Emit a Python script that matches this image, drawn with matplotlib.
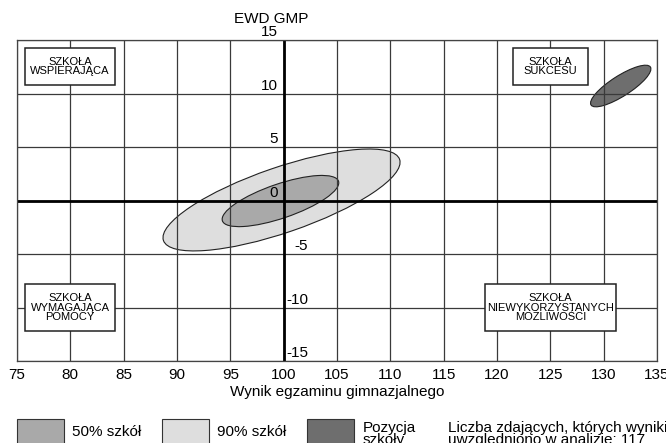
import numpy as np
import matplotlib
matplotlib.use("Agg")
import matplotlib.pyplot as plt
from matplotlib.patches import Ellipse, Rectangle

plt.rcParams['font.family'] = ['Liberation Sans', 'DejaVu Sans']

# axis ranges / ticks
x_ticks = [75, 80, 85, 90, 95, 100, 105, 110, 115, 120, 125, 130, 135]
y_ticks = [-15, -10, -5, 0, 5, 10, 15]

# ellipses: 90% szkół, 50% szkół, pozycja szkoły
ell_names = ["90% szkół", "50% szkół", "Pozycja szkoły"]
ell_cx = [99.8, 99.7, 131.6]
ell_cy = [0.05, -0.05, 10.7]
ell_w = [23.4, 11.5, 6.6]
ell_h = [6.1, 3.2, 1.9]
ell_ang = [18.9, 18.8, 32.5]
ell_col = ["#dedede", "#a9a9a9", "#6e6e6e"]

quadrant_labels = ["SZKOŁA\nWSPIERAJĄCA", "SZKOŁA\nSUKCESU",
                   "SZKOŁA\nWYMAGAJĄCA\nPOMOCY",
                   "SZKOŁA\nNIEWYKORZYSTANYCH\nMOŻLIWOŚCI"]
# box extents in axes fraction (x0, x1, y0, y1)
quadrant_boxes = [(0.0125, 0.153, 0.860, 0.975),
                  (0.775, 0.892, 0.860, 0.975),
                  (0.0125, 0.153, 0.093, 0.240),
                  (0.731, 0.936, 0.093, 0.240)]

fig = plt.figure(figsize=(6.66, 4.43), dpi=100)
ax = fig.add_axes([17/666, 82/443, 640/666, 321/443])
ax.set_xlim(75, 135)
ax.set_ylim(-15, 15)

ax.set_xticks(x_ticks)
ax.set_yticks(y_ticks)
ax.set_yticklabels([])
ax.tick_params(length=0, labelsize=11, pad=5)
ax.grid(True, color="#3a3a3a", linewidth=0.9)
for s in ax.spines.values():
    s.set_color("#444444")
    s.set_linewidth(0.9)

for i in range(len(ell_cx)):
    e = Ellipse((ell_cx[i], ell_cy[i]), ell_w[i], ell_h[i], angle=ell_ang[i],
                facecolor=ell_col[i], edgecolor="#222222", linewidth=0.8, zorder=1)
    ax.add_patch(e)

ax.axhline(0, color="black", linewidth=2, zorder=2)
ax.axvline(100, color="black", linewidth=2, zorder=2)

# y tick labels sit next to the vertical axis at x=100
for v in y_ticks:
    if v >= 0:
        ax.text(99.45, v + 0.35, str(v), ha="right", va="baseline", fontsize=11,
                clip_on=False, zorder=4)
    else:
        ax.text(102.3, v + 0.35, str(v), ha="right", va="baseline", fontsize=11,
                clip_on=False, zorder=4)

ax.text(98.8, 16.6, "EWD GMP", ha="center", va="baseline", fontsize=11, clip_on=False)
ax.set_xlabel("Wynik egzaminu gimnazjalnego", fontsize=11, labelpad=2)

for lab, (x0, x1, y0, y1) in zip(quadrant_labels, quadrant_boxes):
    ax.add_patch(Rectangle((x0, y0), x1 - x0, y1 - y0, transform=ax.transAxes,
                           facecolor="white", edgecolor="#222222", linewidth=1.1,
                           zorder=3))
    ax.text((x0 + x1) / 2, (y0 + y1) / 2, lab, transform=ax.transAxes,
            ha="center", va="center", fontsize=8, linespacing=0.9, zorder=4)

# legend along the bottom (clipped by the figure edge like the original)
leg_x = [17, 162, 307]
leg_order = [1, 0, 2]
leg_text = ["50% szkół", "90% szkół", "Pozycja\nszkoły"]
for lx, k, t in zip(leg_x, leg_order, leg_text):
    fig.patches.append(Rectangle((lx/666, -0.05), 47/666, 0.05 + 24/443,
                                 transform=fig.transFigure, facecolor=ell_col[k],
                                 edgecolor="#333333", linewidth=0.8))
    if "\n" in t:
        fig.text((lx + 56)/666, 22/443, t, ha="left", va="top", fontsize=11,
                 linespacing=0.8)
    else:
        fig.text((lx + 55)/666, 11/443, t, ha="left", va="center", fontsize=11)
fig.text(448/666, 22/443, "Liczba zdających, których wyniki\nuwzględniono w analizie: 117",
         ha="left", va="top", fontsize=11, linespacing=0.8)

fig.savefig("out.png", dpi=100)
